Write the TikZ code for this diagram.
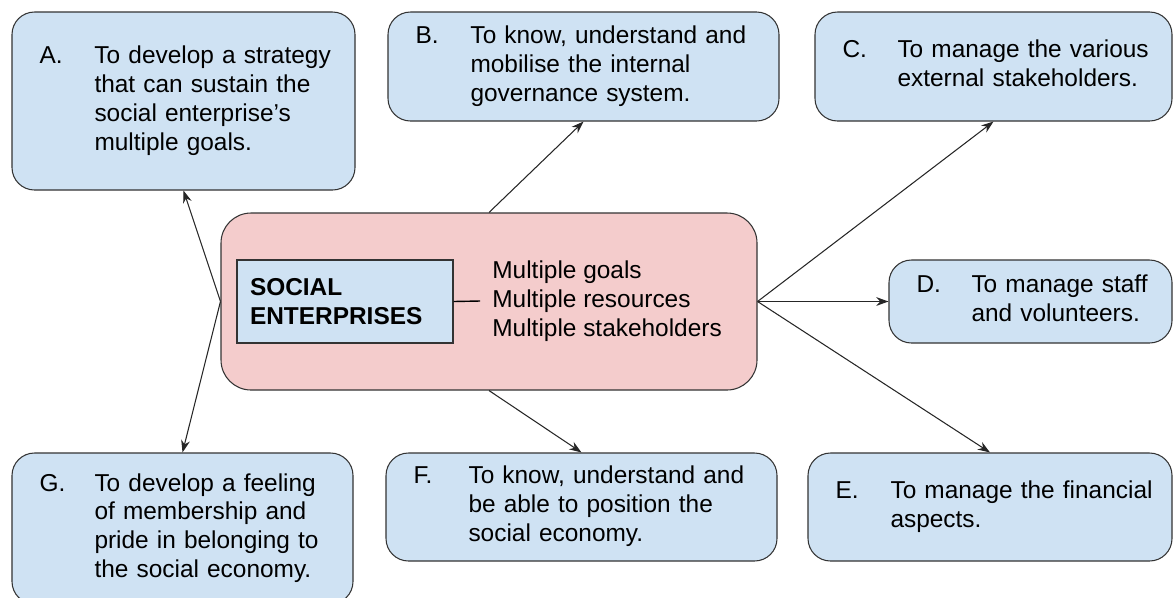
\documentclass[tikz,border=0pt]{standalone}
\usepackage{fontspec}
\setmainfont{Liberation Sans}
\usetikzlibrary{arrows.meta}
\definecolor{goalblue}{HTML}{CFE2F3}
\definecolor{corepink}{HTML}{F4CCCC}
\newcommand{\goal}[2]{\begin{tabular}{@{}p{1.1cm}@{}l@{}}#1 & \begin{tabular}[t]{@{}l@{}}#2\end{tabular}\end{tabular}}

\begin{document}
\begin{tikzpicture}[font=\fontsize{13.9}{16.4}\selectfont,
  goalbox/.style = {draw=black!80, line width=0.6pt, fill=goalblue, rounded corners=0.45cm, inner xsep=0.55cm, align=left},
  core/.style = {draw=black!80, line width=0.6pt, fill=corepink, rounded corners=0.6cm},
  link/.style = {draw=black!85, line width=0.6pt, -{Stealth[length=7pt,width=5pt]}}]

	\useasboundingbox (0,0) rectangle (23.48,-11.94);

	\node[goalbox, text width=5.76cm, minimum height=3.56cm] (A) at (3.67,-2.02) {\goal{A.}{To develop a strategy\\that can sustain the\\social enterprise’s\\multiple goals.}};
	\node[goalbox, text width=6.72cm, minimum height=2.18cm] (B) at (11.67,-1.33) {\goal{B.}{To know, understand and\\mobilise the internal\\governance system.}};
	\node[goalbox, text width=6.04cm, minimum height=2.18cm] (C) at (19.87,-1.33) {\goal{C.}{To manage the various\\external stakeholders.}};
	\node[goalbox, text width=4.56cm, minimum height=1.66cm] (D) at (20.61,-6.03) {\goal{D.}{To manage staff\\and volunteers.}};
	\node[goalbox, text width=6.18cm, minimum height=2.16cm] (E) at (19.80,-10.14) {\goal{E.}{To manage the financial\\aspects.}};
	\node[goalbox, text width=6.72cm, minimum height=2.16cm] (F) at (11.63,-10.14) {\goal{F.}{To know, understand and\\be able to position the\\social economy.}};
	\node[goalbox, text width=5.72cm, minimum height=3.02cm] (G) at (3.65,-10.57) {\goal{G.}{To develop a feeling\\of membership and\\pride in belonging to\\the social economy.}};

	\node[core, minimum width=10.72cm, minimum height=3.54cm] (S) at (9.78,-6.03) {};
	\node[draw=black!80, line width=0.6pt, fill=goalblue, text width=3.8cm, inner xsep=0.26cm, minimum height=1.66cm, align=left] (I) at (6.90,-6.03) {\bfseries SOCIAL\\ENTERPRISES};
	\node[anchor=west, align=left, inner xsep=0.24cm] (L) at (9.60,-6.02) {Multiple goals\\Multiple resources\\Multiple stakeholders};

	\draw[line width=0.8pt] (I.east) -- (L.west);
	\draw[link] (S.west) -- (A.south);
	\draw[link] (S.west) -- (G.north);
	\draw[link] (S.north) -- (B.south);
	\draw[link] (S.south) -- (F.north);
	\draw[link] (S.east) -- (C.south);
	\draw[link] (S.east) -- (D.west);
	\draw[link] (S.east) -- (E.north);
\end{tikzpicture}
\end{document}
